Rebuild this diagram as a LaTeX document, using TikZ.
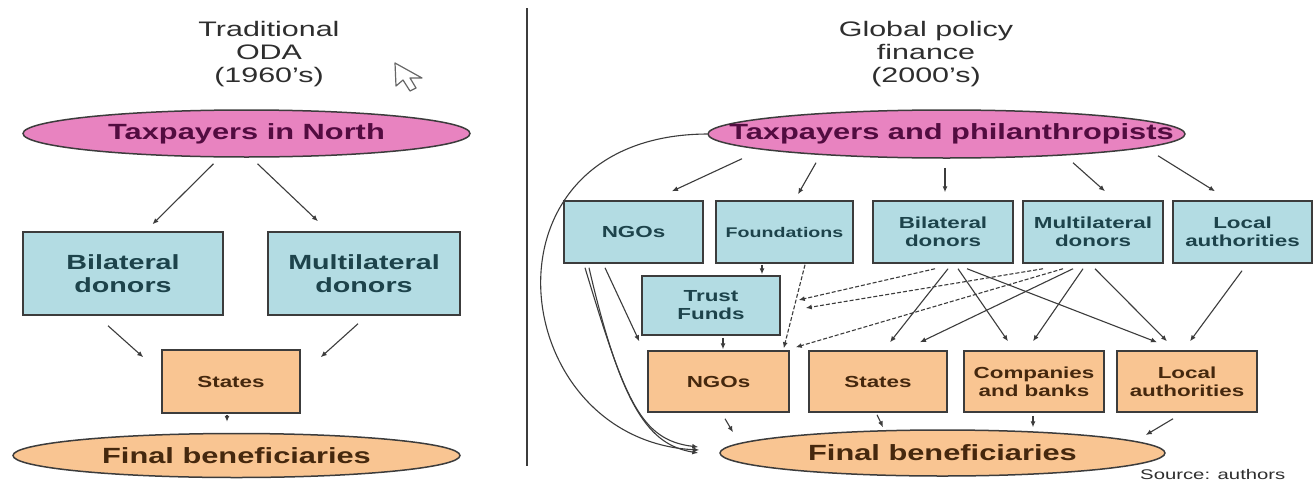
\documentclass[tikz,border=0pt]{standalone}
\usepackage{fontspec}
\setmainfont{Liberation Sans}[FakeStretch=1.45]
\newfontfamily\lblfont{Liberation Sans}[FakeStretch=1.4]
\usetikzlibrary{shapes.geometric,arrows.meta,calc}
\definecolor{pinkF}{HTML}{E883C0}
\definecolor{pinkT}{HTML}{520C40}
\definecolor{blueF}{HTML}{B3DCE3}
\definecolor{blueT}{HTML}{1D434B}
\definecolor{orF}{HTML}{F9C592}
\definecolor{orT}{HTML}{45280E}
\definecolor{edgec}{HTML}{3C3C3C}
\definecolor{ttl}{HTML}{2E2E2E}
\tikzset{
  box/.style={draw=edgec,line width=1.5pt,inner sep=0pt,align=center},
  bluebox/.style={box,fill=blueF,text=blueT},
  orbox/.style={box,fill=orF,text=orT},
  ell/.style={ellipse,draw=edgec,line width=1.5pt,inner sep=0pt},
  bigf/.style={font=\lblfont\bfseries\fontsize{20.5pt}{23pt}\selectfont},
  ellf/.style={font=\lblfont\bfseries\fontsize{22pt}{24pt}\selectfont},
  smf/.style={font=\lblfont\bfseries\fontsize{16pt}{18pt}\selectfont},
  ttlf/.style={font=\fontsize{21pt}{23pt}\selectfont,text=ttl,align=center,inner sep=0pt},
  arr/.style={draw=edgec,line width=1.1pt,-{Latex[length=6pt,width=5pt]}},
  darr/.style={arr,dash pattern=on 4pt off 2pt}
}
\begin{document}
\begin{tikzpicture}[x=1pt,y=-1pt]
\useasboundingbox (0,0) rectangle (1314,482);
\fill[white] (0,0) rectangle (1314,482);

% ---------- left panel ----------
\node[ttlf] (ttlL) at (269,54.5) {Traditional\\ODA\\(1960's)};
\draw[draw=gray!80!black,fill=white,line width=1.2pt,line join=round]
  (395,63) -- (396,86) -- (403,80) -- (410,91) -- (416,88) -- (410,78) -- (422,78) -- cycle;

\node[ell,fill=pinkF,text=pinkT,minimum width=447pt,minimum height=47pt,ellf] (tnorth) at (246.5,133.5) {Taxpayers in North};
\node[bluebox,bigf,minimum width=200pt,minimum height=83pt] (bilL) at (123,273.5) {Bilateral\\donors};
\node[bluebox,bigf,minimum width=192pt,minimum height=83pt] (mulL) at (364,273.5) {Multilateral\\donors};
\node[orbox,smf,minimum width=138pt,minimum height=63pt] (stL) at (231,381.5) {States};
\node[ell,fill=orF,text=orT,minimum width=447pt,minimum height=44pt,ellf] (finL) at (236.5,455.5) {Final beneficiaries};

\draw[arr] ($(tnorth.south)+(-33,6)$) -- ($(bilL.north)+(29.5,-7)$);
\draw[arr] ($(tnorth.south)+(11,6)$) -- ($(mulL.north)+(-46,-10)$);
\draw[arr] ($(bilL.south)+(-15,10)$) -- ($(stL.north west)+(-18,8)$);
\draw[arr] ($(mulL.south)+(-6,8)$) -- ($(stL.north east)+(20,8)$);
\draw[arr] ($(stL.south)+(-4,1)$) -- ($(stL.south)+(-4,8)$);

% divider
\draw[draw=edgec,line width=2pt] (527,8) -- (527,466);

% ---------- right panel ----------
\node[ttlf] (ttlR) at (926,54.5) {Global policy\\finance\\(2000's)};

\node[ell,fill=pinkF,minimum width=477pt,minimum height=48pt] (tphil) at (946.5,134) {};
\node[text=pinkT,ellf,inner sep=0pt] (tphilT) at ($(tphil.center)+(5,0)$) {Taxpayers and philanthropists};

\node[bluebox,smf,minimum width=139pt,minimum height=62pt] (ngoT) at (633.5,232) {NGOs};
\node[bluebox,font=\lblfont\bfseries\fontsize{14pt}{17pt}\selectfont,minimum width=137pt,minimum height=62pt] (fndT) at (784.5,232) {Foundations};
\node[bluebox,smf,minimum width=140pt,minimum height=62pt] (bilT) at (943,232) {Bilateral\\donors};
\node[bluebox,smf,minimum width=140pt,minimum height=62pt] (mulT) at (1093,232) {Multilateral\\donors};
\node[bluebox,smf,minimum width=139pt,minimum height=62pt] (locT) at (1242.5,232) {Local\\authorities};
\node[bluebox,smf,minimum width=138pt,minimum height=59pt] (trust) at (711,305.5) {Trust\\Funds};

\node[orbox,smf,minimum width=141pt,minimum height=61pt] (ngoB) at (718.5,381.5) {NGOs};
\node[orbox,smf,minimum width=138pt,minimum height=61pt] (stB) at (878,381.5) {States};
\node[orbox,smf,minimum width=140pt,minimum height=61pt] (coB) at (1034,381.5) {Companies\\and banks};
\node[orbox,smf,minimum width=140pt,minimum height=61pt] (loB) at (1187,381.5) {Local\\authorities};

\node[ell,fill=orF,text=orT,minimum width=445pt,minimum height=46pt,ellf] (finR) at (942.5,453) {Final beneficiaries};

% taxpayers -> top row
\draw[arr] ($(tphil.south)+(-204.5,0)$) -- ($(ngoT.north)+(38.5,-9)$);
\draw[arr] ($(tphil.south)+(-130.5,4)$) -- ($(fndT.north)+(13.5,-6)$);
\draw[arr] ($(tphil.south)+(-1.5,9)$) -- ($(bilT.north)+(2,-8)$);
\draw[arr] ($(tphil.south)+(126.5,4)$) -- ($(mulT.north)+(12,-9)$);
\draw[arr] ($(tphil.south)+(211.5,-3)$) -- ($(locT.north)+(-27.5,-9)$);
% taxpayers -> final (long curve)
\draw[arr] (tphil.west) .. controls (470,135) and (505,440) .. ($(finR.west)+(-20,-3)$);
% NGOs top -> final
\draw[arr] ($(ngoT.south)+(-48.5,4)$) .. controls (625,400) and (640,440) .. ($(finR.west)+(-21,-6)$);
\draw[arr] ($(ngoT.south)+(-44.5,4)$) .. controls (622,410) and (650,445) .. ($(finR.west)+(-21,0)$);
% NGOs top -> NGOs bottom
\draw[arr] ($(ngoT.south)+(-28.5,4)$) -- ($(ngoB.north west)+(-8,-9)$);
% foundations
\draw[arr] ($(fndT.south)+(-22.5,1)$) -- ($(trust.north)+(51,-1)$);
\draw[darr] ($(fndT.south)+(20.5,1)$) -- ($(ngoB.north east)+(-6,-2)$);
% trust -> NGOs
\draw[arr] ($(trust.south)+(12,2)$) -- ($(ngoB.north)+(4.5,-1)$);
% bottom row -> final
\draw[arr] ($(ngoB.south)+(6.5,6)$) -- ($(finR.north)+(-209.5,3)$);
\draw[arr] ($(stB.south)+(-1,2)$) -- ($(finR.north)+(-59.5,-2)$);
\draw[arr] ($(coB.south)+(-1,3)$) -- ($(finR.north)+(90.5,-2)$);
\draw[arr] ($(loB.south)+(-14,6)$) -- ($(finR.east)+(-20,-18)$);
% local top -> local bottom
\draw[arr] ($(locT.south)+(-0.5,7)$) -- ($(loB.north)+(3,-9)$);
% bilateral / multilateral crossings
\draw[darr] ($(bilT.south)+(-8,5)$) -- ($(trust.east)+(18,-5.5)$);
\draw[darr] ($(mulT.south)+(-50,5)$) -- ($(trust.east)+(25,2.5)$);
\draw[darr] ($(mulT.south)+(-30,5)$) -- ($(ngoB.north east)+(6,-3)$);
\draw[arr] ($(bilT.south)+(5,5)$) -- ($(stB.north)+(12,-8)$);
\draw[arr] ($(mulT.south)+(-20,5)$) -- ($(stB.north)+(42,-8)$);
\draw[arr] ($(bilT.south)+(15,5)$) -- ($(coB.north)+(-26,-9)$);
\draw[arr] ($(mulT.south)+(-10,5)$) -- ($(coB.north)+(-1,-9)$);
\draw[arr] ($(bilT.south)+(24,5)$) -- ($(loB.north)+(-30,-8)$);
\draw[arr] ($(mulT.south)+(2,5)$) -- ($(loB.north)+(-20,-9)$);

\node[anchor=north west,inner sep=0pt,text=ttl,font=\fontsize{14pt}{16pt}\selectfont] (src) at (1140,469) {Source: authors};
\end{tikzpicture}
\end{document}
